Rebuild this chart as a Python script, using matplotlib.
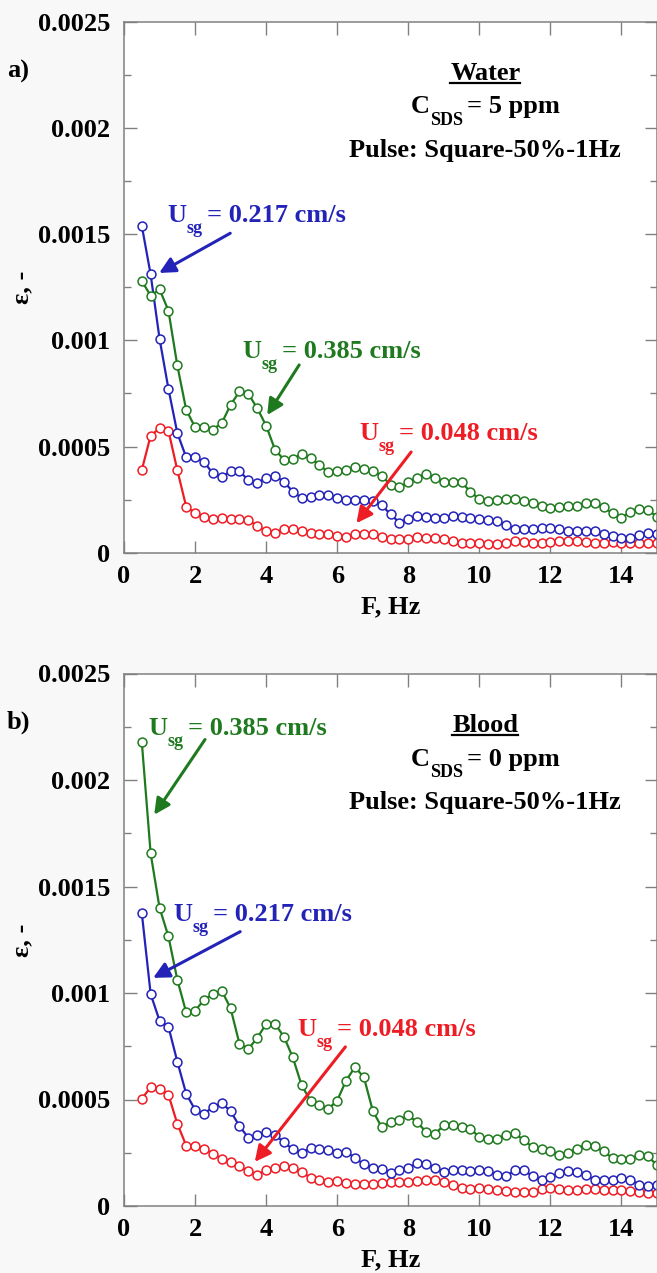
import numpy as np
import matplotlib.pyplot as plt
from matplotlib.lines import Line2D

plt.rcParams['font.family'] = ['Liberation Serif', 'DejaVu Serif']
plt.rcParams['font.weight'] = 'bold'
plt.rcParams['axes.labelweight'] = 'bold'

freq = np.arange(0.5, 15.01, 0.25)

# a) water, C_SDS = 5 ppm
water_048 = [0.000389, 0.000551, 0.000586, 0.000575, 0.000389, 0.000217, 0.000186, 0.000170,
             0.000158, 0.000162, 0.000161, 0.000161, 0.000154, 0.000126, 0.000102, 0.000095,
             0.000110, 0.000110, 0.000102, 0.000095, 0.000087, 0.000087, 0.000079, 0.000076,
             0.000087, 0.000090, 0.000087, 0.000076, 0.000063, 0.000063, 0.000066, 0.000074,
             0.000071, 0.000068, 0.000063, 0.000055, 0.000047, 0.000047, 0.000044, 0.000040,
             0.000043, 0.000047, 0.000055, 0.000050, 0.000047, 0.000047, 0.000050, 0.000055,
             0.000055, 0.000055, 0.000052, 0.000047, 0.000047, 0.000050, 0.000047, 0.000044,
             0.000044, 0.000044, 0.000044]
water_217 = [0.00154, 0.00131, 0.001008, 0.000772, 0.000564, 0.000449, 0.000449, 0.000428,
             0.000373, 0.000357, 0.000383, 0.000383, 0.000342, 0.000326, 0.000354, 0.000362,
             0.000334, 0.000288, 0.000257, 0.000263, 0.000272, 0.000272, 0.000257, 0.000249,
             0.000249, 0.000249, 0.000244, 0.000224, 0.000181, 0.000142, 0.000161, 0.000173,
             0.000168, 0.000162, 0.000165, 0.000173, 0.000168, 0.000162, 0.000158, 0.000153,
             0.000150, 0.000129, 0.000113, 0.000110, 0.000110, 0.000118, 0.000118, 0.000110,
             0.000102, 0.000100, 0.000102, 0.000100, 0.000090, 0.000079, 0.000071, 0.000068,
             0.000083, 0.000095, 0.000087]
water_385 = [0.00128, 0.00121, 0.00124, 0.00114, 0.000882, 0.000673, 0.000591, 0.000591,
             0.000580, 0.000610, 0.000696, 0.000759, 0.000748, 0.000680, 0.000598, 0.000485,
             0.000438, 0.000441, 0.000465, 0.000444, 0.000414, 0.000378, 0.000383, 0.000390,
             0.000402, 0.000394, 0.000386, 0.000362, 0.000320, 0.000307, 0.000331, 0.000354,
             0.000370, 0.000354, 0.000331, 0.000331, 0.000331, 0.000287, 0.000252, 0.000244,
             0.000249, 0.000252, 0.000252, 0.000244, 0.000236, 0.000220, 0.000209, 0.000217,
             0.000220, 0.000220, 0.000236, 0.000236, 0.000213, 0.000186, 0.000165, 0.000192,
             0.000205, 0.000200, 0.000170]

# b) blood, C_SDS = 0 ppm
blood_048 = [0.000503, 0.000558, 0.000550, 0.000523, 0.000386, 0.000284, 0.000284, 0.000269,
             0.000245, 0.000222, 0.000206, 0.000186, 0.000163, 0.000147, 0.000167, 0.000178,
             0.000186, 0.000178, 0.000159, 0.000133, 0.000120, 0.000113, 0.000117, 0.000109,
             0.000105, 0.000105, 0.000105, 0.000109, 0.000113, 0.000113, 0.000113, 0.000117,
             0.000120, 0.000120, 0.000113, 0.000097, 0.000086, 0.000081, 0.000086, 0.000081,
             0.000077, 0.000070, 0.000066, 0.000066, 0.000066, 0.000081, 0.000086, 0.000081,
             0.000077, 0.000073, 0.000078, 0.000081, 0.000077, 0.000077, 0.000073, 0.000070,
             0.000066, 0.000063, 0.000061]
blood_217 = [0.001377, 0.000995, 0.000870, 0.000842, 0.000678, 0.000527, 0.000452, 0.000433,
             0.000464, 0.000483, 0.000445, 0.000375, 0.000320, 0.000331, 0.000347, 0.000334,
             0.000300, 0.000266, 0.000250, 0.000272, 0.000269, 0.000261, 0.000250, 0.000253,
             0.000227, 0.000195, 0.000178, 0.000175, 0.000155, 0.000170, 0.000178, 0.000202,
             0.000198, 0.000180, 0.000159, 0.000167, 0.000167, 0.000164, 0.000167, 0.000163,
             0.000147, 0.000139, 0.000167, 0.000167, 0.000141, 0.000120, 0.000136, 0.000155,
             0.000163, 0.000159, 0.000144, 0.000123, 0.000120, 0.000120, 0.000133, 0.000123,
             0.000100, 0.000092, 0.000100]
blood_385 = [0.00218, 0.001655, 0.00140, 0.001266, 0.001063, 0.000909, 0.000917, 0.000967,
             0.000995, 0.001011, 0.000928, 0.000761, 0.000738, 0.000789, 0.000855, 0.000855,
             0.000795, 0.000698, 0.000566, 0.000495, 0.000475, 0.000456, 0.000495, 0.000589,
             0.000652, 0.000605, 0.000448, 0.000370, 0.000394, 0.000405, 0.000425, 0.000394,
             0.000347, 0.000339, 0.000378, 0.000378, 0.000370, 0.000363, 0.000323, 0.000313,
             0.000316, 0.000334, 0.000342, 0.000308, 0.000277, 0.000269, 0.000258, 0.000238,
             0.000250, 0.000269, 0.000288, 0.000280, 0.000256, 0.000225, 0.000219, 0.000222,
             0.000238, 0.000233, 0.000191]

yticks = [0, 0.0005, 0.001, 0.0015, 0.002, 0.0025]
yticklabels = ['0', '0.0005', '0.001', '0.0015', '0.002', '0.0025']
xticks = [0, 2, 4, 6, 8, 10, 12, 14]

red = '#ee1c24'
blue = '#2323b8'
green = '#1f7a1f'
FS = 19
SUB = 13

fig = plt.figure(figsize=(6.57, 12.73), dpi=100, facecolor='#f8f8f8')
ax1 = fig.add_axes([124/657, 720.3/1273, 533/657, 531/1273])
ax2 = fig.add_axes([124/657, 67/1273, 533/657, 532.5/1273])


def style(ax):
    ax.set_xlim(0, 15)
    ax.set_ylim(0, 0.0025)
    ax.set_xticks(xticks)
    ax.set_xticklabels([str(t) for t in xticks])
    ax.set_yticks(yticks)
    ax.set_yticklabels(yticklabels)
    ax.set_yticks(np.arange(0.00025, 0.0025, 0.0005), minor=True)
    ax.tick_params(which='both', direction='in', top=True, right=True, color='#808080',
                   labelsize=FS, width=1)
    ax.tick_params(which='major', length=9)
    ax.tick_params(which='minor', length=5)
    ax.tick_params(axis='y', pad=10)
    ax.tick_params(axis='x', pad=9)
    for s in ax.spines.values():
        s.set_color('#808080')
        s.set_linewidth(1.1)
    ax.set_xlabel('F, Hz', fontsize=FS, labelpad=5)


def series(ax, y, c):
    ax.plot(freq, y, '-o', color=c, lw=1.6, ms=6.4, mfc='white', mec=c, mew=1.1)


def subtext(ax, x, y, main, sub, rest, c='black'):
    # main letter, dropped subscript, then the rest on the main baseline
    t0 = ax.text(x, y, main, color=c, fontsize=FS, ha='left', va='baseline')
    t1 = ax.annotate(sub, xy=(1, y), xycoords=(t0, 'data'), xytext=(0.5, -8),
                     textcoords='offset points', color=c, fontsize=SUB,
                     ha='left', va='baseline')
    t2 = ax.annotate(rest, xy=(1, y), xycoords=(t1, 'data'), xytext=(3, 0),
                     textcoords='offset points', color=c, fontsize=FS,
                     ha='left', va='baseline')
    return t0, t2


def note(ax, rest, c, pos, tail, tip):
    subtext(ax, pos[0], pos[1], 'U', 'sg', rest, c)
    ax.annotate('', xy=tip, xytext=tail,
                arrowprops=dict(arrowstyle='-|>', color=c, lw=2.2, mutation_scale=24,
                                shrinkA=0, shrinkB=0))


for ax in (ax1, ax2):
    style(ax)

series(ax1, water_048, red)
series(ax1, water_217, blue)
series(ax1, water_385, green)

series(ax2, blood_048, red)
series(ax2, blood_217, blue)
series(ax2, blood_385, green)

note(ax1, '= 0.217 cm/s', blue, (1.21, 0.001556), (2.99, 0.001504), (0.99, 0.001317))
note(ax1, '= 0.385 cm/s', green, (3.32, 0.000915), (4.93, 0.000884), (4.03, 0.000648))
note(ax1, '= 0.048 cm/s', red, (6.62, 0.00053), (8.08, 0.000474), (6.54, 0.000139))

note(ax2, '= 0.385 cm/s', green, (0.68, 0.00221), (2.28, 0.00219), (0.85, 0.001837))
note(ax2, '= 0.217 cm/s', blue, (1.38, 0.00134), (3.27, 0.001288), (0.82, 0.001071))
note(ax2, '= 0.048 cm/s', red, (4.87, 0.0008), (6.23, 0.000747), (3.68, 0.000207))

xc = 10.17
titles = []
conc_lines = []
for ax, fluid, conc in ((ax1, 'Water', '5'), (ax2, 'Blood', '0')):
    titles.append((ax, ax.text(xc, 0.002225, fluid, fontsize=FS, ha='center', va='baseline')))
    conc_lines.append((ax, subtext(ax, xc, 0.002068, 'C', 'SDS', '= ' + conc + ' ppm')))
    ax.text(xc, 0.001864, 'Pulse: Square-50%-1Hz', fontsize=FS, ha='center', va='baseline')

fig.text(7/657, 1 - 71/1273, 'a)', fontsize=FS, va='center', ha='left')
fig.text(7/657, 1 - 722/1273, 'b)', fontsize=FS, va='center', ha='left')
fig.text(22/657, 1 - 287/1273, 'ε, -', fontsize=FS, rotation=90, va='center', ha='center')
fig.text(22/657, 1 - 940/1273, 'ε, -', fontsize=FS, rotation=90, va='center', ha='center')

# centre the C_SDS lines and underline the fluid names
fig.canvas.draw()
r = fig.canvas.get_renderer()
for ax, (first, last) in conc_lines:
    x0 = first.get_window_extent(r).x0
    x1 = last.get_window_extent(r).x1
    cx = ax.transData.transform((xc, 0))[0]
    new_left = cx - (x1 - x0) / 2
    first.set_x(ax.transData.inverted().transform((new_left, 0))[0])

for ax, t in titles:
    bb = t.get_window_extent(r)
    y = ax.transData.transform((xc, 0.002225))[1] - 3
    fig.add_artist(Line2D([bb.x0 / 657, bb.x1 / 657], [y / 1273, y / 1273],
                          color='black', lw=1.6))

fig.savefig('out.png', dpi=100, facecolor=fig.get_facecolor())
